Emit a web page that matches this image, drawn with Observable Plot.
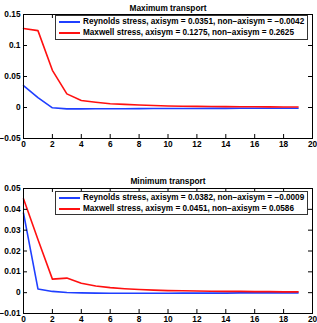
<!DOCTYPE html>
<html><head><meta charset="utf-8">
<script src="https://cdn.jsdelivr.net/npm/d3@7"></script>
<script src="https://cdn.jsdelivr.net/npm/@observablehq/plot@0.6"></script>
<style>
body{margin:0;background:#fff;}
#wrap{position:relative;width:317px;height:323px;overflow:hidden;font-family:"Liberation Sans",Arial,sans-serif;font-weight:bold;}
#wrap svg{display:block;}
.leg{position:absolute;border:1px solid #333;background:#fff;font-size:8.2px;line-height:10px;padding:1px 0 1px 3px;box-sizing:border-box;}
.row{display:flex;align-items:center;height:10.5px;white-space:nowrap;}
.sw{width:21px;height:2px;margin-right:3px;}
</style></head>
<body><div id="wrap"></div>
<script>
const steps = [0,1,2,3,4,5,6,7,8,9,10,11,12,13,14,15,16,17,18,19];
const reynoldsMax = [0.0351,0.016,-0.0005,-0.0022,-0.0022,-0.0021,-0.002,-0.0019,-0.0018,-0.0017,-0.0016,-0.0015,-0.0015,-0.0014,-0.0014,-0.0013,-0.0013,-0.0012,-0.0012,-0.0012];
const maxwellMax = [0.1275,0.124,0.060,0.022,0.0113,0.0085,0.006,0.005,0.004,0.0033,0.0025,0.0021,0.0018,0.0016,0.0014,0.0012,0.0011,0.001,0.0009,0.0009];
const reynoldsMin = [0.0382,0.0018,0.0006,0.0001,-0.0001,-0.0002,-0.0003,-0.0003,-0.0003,-0.0003,-0.0003,-0.0002,-0.0002,-0.0002,-0.0002,-0.0001,-0.0001,-0.0001,-0.0001,-0.0001];
const maxwellMin = [0.0451,0.0255,0.0065,0.0070,0.0045,0.0032,0.0024,0.0019,0.0015,0.0012,0.0010,0.0009,0.0008,0.0007,0.0006,0.0006,0.0005,0.0005,0.0004,0.0004];
const xTicks = [0,2,4,6,8,10,12,14,16,18,20];
const yTicksMax = [-0.05,0,0.05,0.1,0.15];
const yTicksMin = [-0.01,0,0.01,0.02,0.03,0.04,0.05];
const titles = ["Maximum transport","Minimum transport"];
const legendMax = ["Reynolds stress, axisym = 0.0351, non\u2212axisym = \u22120.0042","Maxwell stress, axisym = 0.1275, non\u2212axisym = 0.2625"];
const legendMin = ["Reynolds stress, axisym = 0.0382, non\u2212axisym = \u22120.0009","Maxwell stress, axisym = 0.0451, non\u2212axisym = 0.0586"];
const colors = ["#1f3fff","#ff1010"];

const fmt = d => String(d).replace("-", "\u2212");

function panel(title, rey, max, yDomain, yTicks, height, mt, mb, titleDy) {
  const W = 317, ml = 23, mr = 5;
  const fw = W - ml - mr, fh = height - mt - mb, tl = 4;
  const data = steps.map((s,i)=>({s, v: rey[i], k:"R"})).concat(steps.map((s,i)=>({s, v: max[i], k:"M"})));
  return Plot.plot({
    width: W, height, marginLeft: ml, marginRight: mr, marginTop: mt, marginBottom: mb,
    style: {fontFamily: '"Liberation Sans", Arial, sans-serif', fontSize: "8.3px", fontWeight: "bold", background: "#fff", color: "#000", overflow: "visible"},
    x: {domain: [0,20]},
    y: {domain: yDomain},
    marks: [
      Plot.line(data.filter(d=>d.k==="R"), {x:"s", y:"v", stroke: colors[0], strokeWidth: 1.6}),
      Plot.line(data.filter(d=>d.k==="M"), {x:"s", y:"v", stroke: colors[1], strokeWidth: 1.6}),
      Plot.tickY(yTicks, {y: d=>d, insetRight: fw - tl, stroke: "#000"}),
      Plot.tickY(yTicks, {y: d=>d, insetLeft: fw - tl, stroke: "#000"}),
      Plot.tickX(xTicks, {x: d=>d, insetTop: fh - tl, stroke: "#000"}),
      Plot.tickX(xTicks, {x: d=>d, insetBottom: fh - tl, stroke: "#000"}),
      Plot.frame({stroke: "#000"}),
      Plot.axisY({ticks: yTicks, tickSize: 0, tickPadding: 3, tickFormat: fmt, label: null}),
      Plot.axisX({ticks: xTicks, tickSize: 0, tickPadding: 3, tickFormat: fmt, label: null}),
      Plot.text([title], {frameAnchor: "top", dy: titleDy, fontSize: 8.3, fontWeight: "bold"})
    ]
  });
}

function legend(lines, left, top, width, height) {
  const d = document.createElement("div");
  d.className = "leg";
  Object.assign(d.style, {left: left+"px", top: top+"px", width: width+"px", height: height+"px"});
  lines.forEach((t,i)=>{
    const r = document.createElement("div"); r.className = "row";
    const sw = document.createElement("span"); sw.className = "sw"; sw.style.background = colors[i];
    const tx = document.createElement("span"); tx.textContent = t;
    r.appendChild(sw); r.appendChild(tx); d.appendChild(r);
  });
  return d;
}

const wrap = document.getElementById("wrap");
wrap.appendChild(panel(titles[0], reynoldsMax, maxwellMax, [-0.05,0.15], yTicksMax, 160, 14, 22, -9));
wrap.appendChild(panel(titles[1], reynoldsMin, maxwellMin, [-0.01,0.05], yTicksMin, 163, 28, 10, -10));
wrap.appendChild(legend(legendMax, 55, 15, 253, 25));
wrap.appendChild(legend(legendMin, 55, 191, 253, 24));
</script></body></html>
